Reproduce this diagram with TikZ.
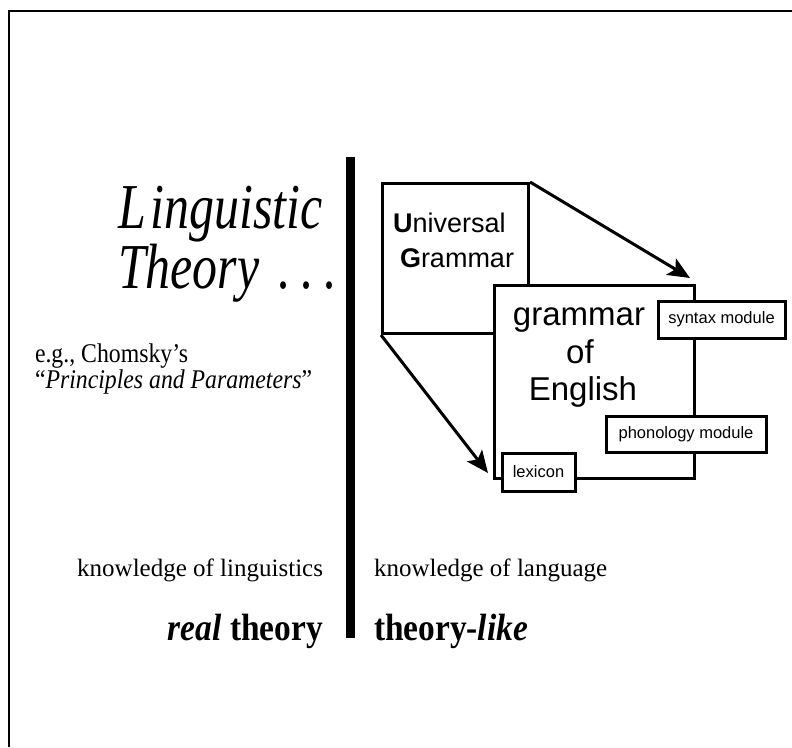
\documentclass[tikz,border=0pt]{standalone}
\usepackage{fontspec}
\setmainfont{Liberation Serif}
\newfontfamily\titlefont[FakeStretch=0.78]{Liberation Serif}
\newfontfamily\egfont[FakeStretch=0.88]{Liberation Serif}
\newfontfamily\botfont[FakeStretch=0.88]{Liberation Serif}
\newfontfamily\sansf{Liberation Sans}
\usetikzlibrary{arrows.meta}
\begin{document}
\begin{tikzpicture}[x=1pt,y=-1pt,
  box/.style={draw, line width=3pt, fill=white, inner sep=0pt},
  modbox/.style={box, font=\sansf\fontsize{16.5}{18}\selectfont},
  lbl/.style={inner sep=0pt, outer sep=0pt},
  bigarrow/.style={line width=3pt, -{Stealth[length=22pt,width=19pt,inset=5pt]}}]
\useasboundingbox (0,0) rectangle (792,747);
% frame (clipped slide border)
\draw[line width=2pt] (9,747) -- (9,11) -- (792,11);
% divider bar
\fill (346,157) rectangle (355,638);

% left side
\node[lbl, align=left, anchor=south west, text depth=0pt, font=\titlefont\itshape\fontsize{64}{56}\selectfont] (title) at (118,288) {L\kern5pt inguistic\\Theory\hspace{0.3em}.\hspace{0.16em}.\hspace{0.16em}.};
\node[lbl, align=left, anchor=south west, text depth=0pt, font=\egfont\fontsize{27}{26}\selectfont] (eg) at (35,388) {e.g., Chomsky’s\\“\textit{Principles and Parameters}”};

% right side diagram
\node[box, fill=none, anchor=north west, minimum width=146pt, minimum height=150pt] (ug) at (381,182) {};
\node[lbl, anchor=base west, font=\sansf\fontsize{27}{30}\selectfont] (ugt1) at (393,232) {\textbf{U}niversal};
\node[lbl, anchor=base west, font=\sansf\fontsize{27}{30}\selectfont] (ugt2) at (400,267) {\textbf{G}rammar};

\coordinate (tipa) at (690,278);
\coordinate (tipb) at (488,473);
\draw[bigarrow] (ug.north east) -- (tipa);
\draw[bigarrow] (ug.south west) -- (tipb);

\node[box, anchor=north west, minimum width=200pt, minimum height=193pt] (ge) at (493,284) {};
\node[lbl, anchor=base, font=\sansf\fontsize{33}{37}\selectfont] (ge1) at (579,325) {grammar};
\node[lbl, anchor=base, font=\sansf\fontsize{33}{37}\selectfont] (ge2) at (580,363) {of};
\node[lbl, anchor=base, font=\sansf\fontsize{33}{37}\selectfont] (ge3) at (583,400) {English};

\node[modbox, minimum width=127pt, minimum height=37pt] (syn) at (721.5,319.5) {syntax module};
\node[modbox, minimum width=160pt, minimum height=36pt] (pho) at (686,434) {phonology module};
\node[modbox, minimum width=73pt, minimum height=38pt] (lex) at (538.5,472) {lexicon};

% bottom labels
\node[lbl, anchor=base east, font=\fontsize{25}{25}\selectfont] (kl) at (323,576) {knowledge of linguistics};
\node[lbl, anchor=base west, font=\fontsize{25}{25}\selectfont] (kg) at (374,576) {knowledge of language};
\node[lbl, anchor=base east, font=\botfont\bfseries\fontsize{38}{38}\selectfont] (rt) at (323,640) {\textit{real} theory};
\node[lbl, anchor=base west, font=\botfont\bfseries\fontsize{38}{38}\selectfont] (tl) at (374,640) {theory-\textit{like}};
\end{tikzpicture}
\end{document}
